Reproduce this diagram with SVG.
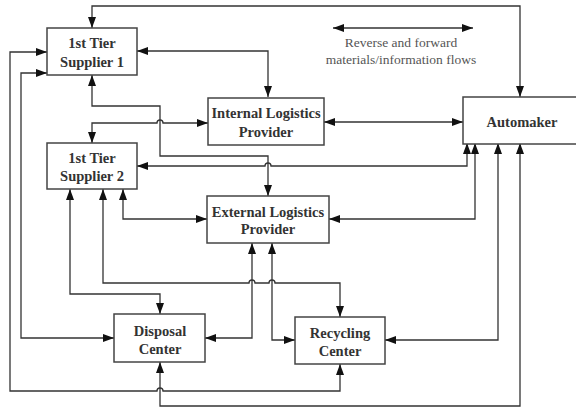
<svg xmlns="http://www.w3.org/2000/svg" width="576" height="408" viewBox="0 0 576 408">
<defs>
<marker id="ah" viewBox="0 0 11 8" refX="11" refY="4" markerWidth="11" markerHeight="8" markerUnits="userSpaceOnUse" orient="auto-start-reverse">
<path d="M0,0 L11,4 L0,8 Z" fill="#111"/>
</marker>
<style>
.box{fill:#fff;stroke:#444;stroke-width:1.5}
.lbl{font-family:"Liberation Serif",serif;font-weight:bold;font-size:14.5px;fill:#333;text-anchor:middle}
.leg{font-family:"Liberation Serif",serif;font-size:13.5px;fill:#555;text-anchor:middle}
.c2{fill:none;stroke:#333;stroke-width:1.3;marker-start:url(#ah);marker-end:url(#ah)}
</style>
</defs>
<rect width="576" height="408" fill="#fff"/>
<g id="connectors">
<path class="c2" d="M92,28 V6 H520 V97"/>
<path class="c2" d="M137,51 H268 V97"/>
<path class="c2" d="M92,75 V106 H160 V156 H268 V196"/>
<path class="c2" d="M92,143 V123 H157 A3,3 0 0 1 163,123 H208"/>
<path class="c2" d="M324,122 H463"/>
<path class="c2" d="M137,166 H265 A3,3 0 0 1 271,166 H467 V143"/>
<path class="c2" d="M329,219 H475 V143"/>
<path class="c2" d="M123,189 V219 H207"/>
<path class="c2" d="M70,189 V294 H160 V314"/>
<path class="c2" d="M103,189 V283 H249 A3,3 0 0 1 255,283 H269 A3,3 0 0 1 275,283 H340 V317"/>
<path class="c2" d="M252,243 V338 H205"/>
<path class="c2" d="M272,243 V340 H295"/>
<path class="c2" d="M498,143 V340 H385"/>
<path class="c2" d="M520,143 V406 H160 V362"/>
<path class="c2" d="M47,52 H10 V391 H157 A3,3 0 0 1 163,391 H340 V364"/>
<path class="c2" d="M47,73 H21 V338 H114"/>
</g>
<g id="legend">
<path class="c2" d="M333,28 H473"/>
<text class="leg" x="401" y="47">Reverse and forward</text>
<text class="leg" x="401" y="64">materials/information flows</text>
</g>
<g id="supplier1">
<rect class="box" x="47" y="28" width="90" height="47"/>
<text class="lbl" x="92" y="48">1st Tier</text>
<text class="lbl" x="92" y="67">Supplier 1</text>
</g>
<g id="internal">
<rect class="box" x="208" y="98" width="116" height="47"/>
<text class="lbl" x="266" y="118">Internal Logistics</text>
<text class="lbl" x="266" y="137">Provider</text>
</g>
<g id="automaker">
<rect class="box" x="463" y="97" width="120" height="47"/>
<text class="lbl" x="522" y="127">Automaker</text>
</g>
<g id="supplier2">
<rect class="box" x="47" y="143" width="90" height="46"/>
<text class="lbl" x="92" y="163">1st Tier</text>
<text class="lbl" x="92" y="181">Supplier 2</text>
</g>
<g id="external">
<rect class="box" x="207" y="196" width="122" height="47"/>
<text class="lbl" x="268" y="217">External Logistics</text>
<text class="lbl" x="268" y="234">Provider</text>
</g>
<g id="disposal">
<rect class="box" x="114" y="314" width="91" height="48"/>
<text class="lbl" x="160" y="336">Disposal</text>
<text class="lbl" x="160" y="354">Center</text>
</g>
<g id="recycling">
<rect class="box" x="295" y="317" width="90" height="47"/>
<text class="lbl" x="340" y="338">Recycling</text>
<text class="lbl" x="340" y="356">Center</text>
</g>
</svg>
